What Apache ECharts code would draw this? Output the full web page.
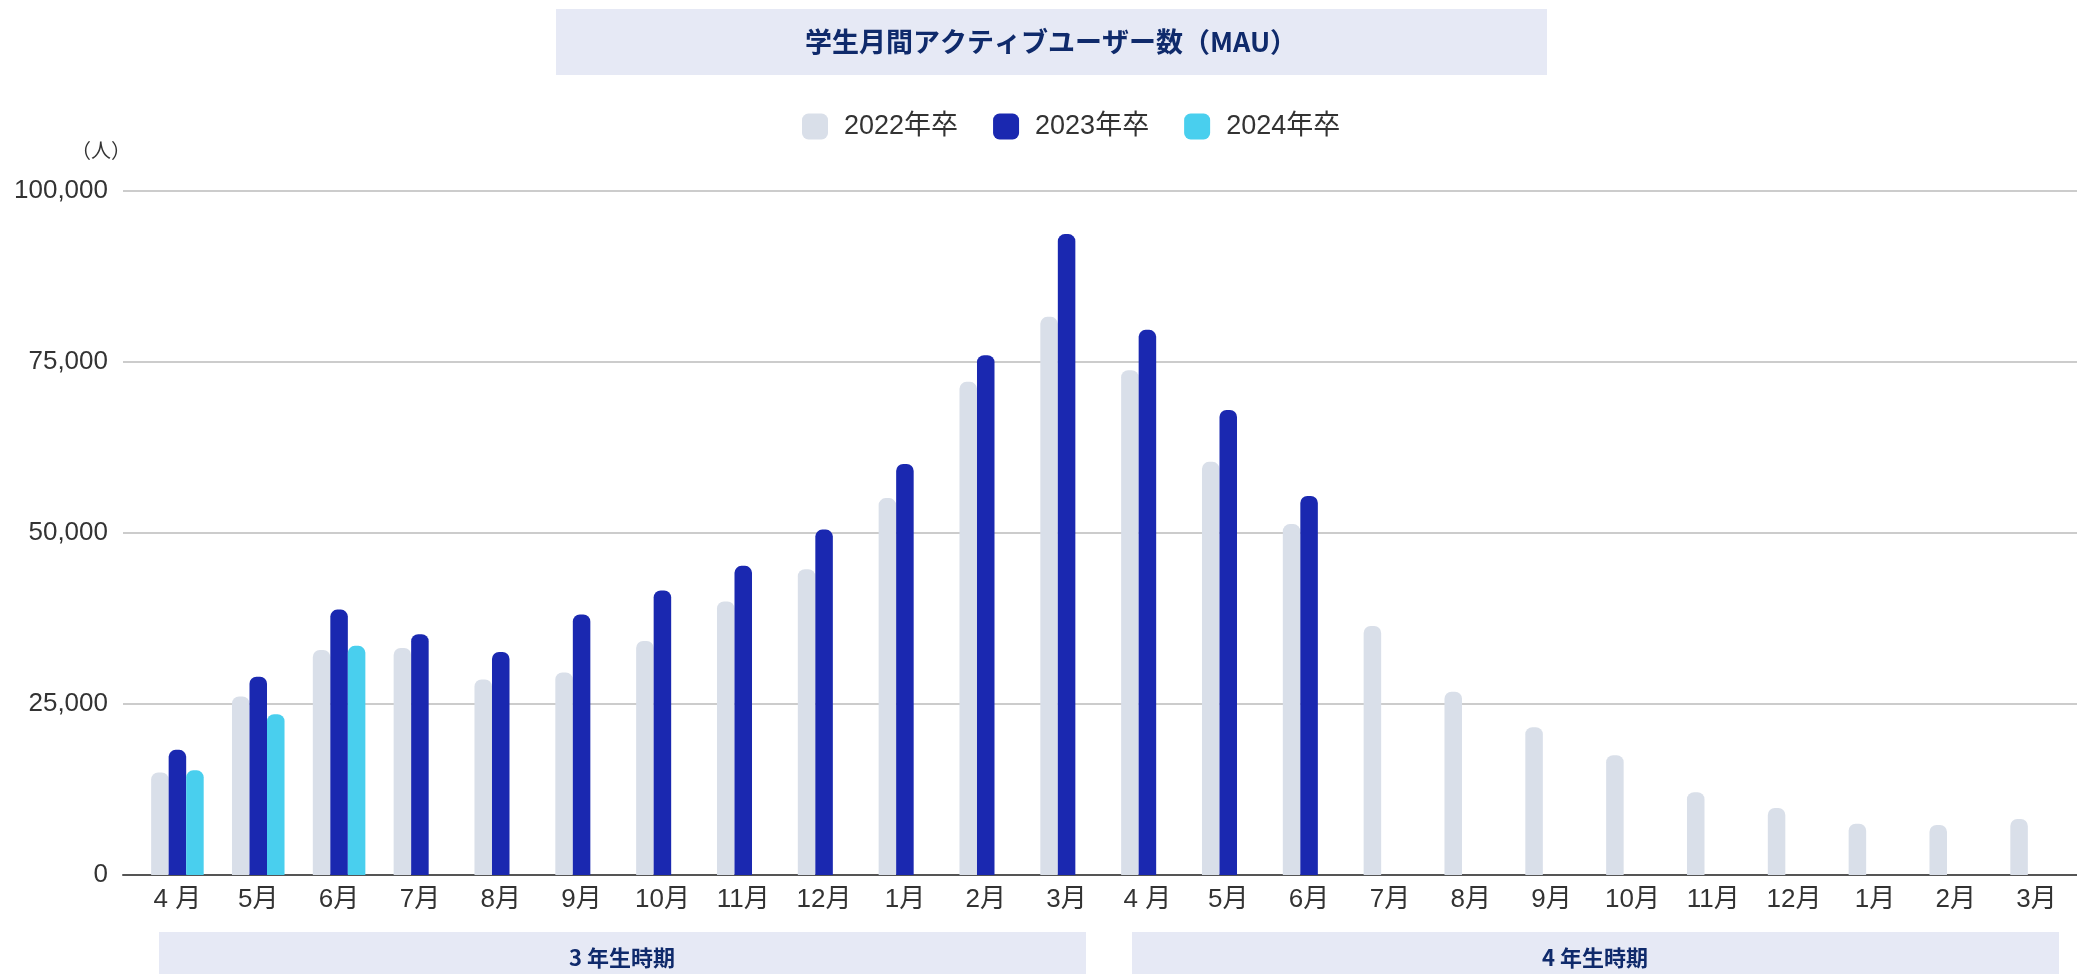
<!DOCTYPE html>
<html lang="ja">
<head>
<meta charset="utf-8">
<title>学生月間アクティブユーザー数（MAU）</title>
<script src="https://cdn.jsdelivr.net/npm/echarts@6/dist/echarts.min.js"></script>
<style>
  html, body { margin: 0; padding: 0; background: #ffffff; }
  #chart { width: 2077px; height: 974px; }
</style>
</head>
<body>
<div id="chart"></div>
<script>
"use strict";

// categories: 3年生 4月..3月 then 4年生 4月..3月
const months = [
  "4 月", "5月", "6月", "7月", "8月", "9月", "10月", "11月", "12月", "1月", "2月", "3月",
  "4 月", "5月", "6月", "7月", "8月", "9月", "10月", "11月", "12月", "1月", "2月", "3月",
];

// MAU per class
const mau_2022 = [
  15000, 26100, 32900, 33200, 28600, 29600, 34200, 40000, 44700, 55100, 72100, 81600,
  73800, 60400, 51300, 36400, 26800, 21600, 17500, 12100, 9800, 7500, 7300, 8200,
];
const mau_2023 = [
  18300, 29000, 38800, 35200, 32600, 38100, 41600, 45200, 50500, 60100, 76000, 93700,
  79700, 68000, 55400, null, null, null, null, null, null, null, null, null,
];
const mau_2024 = [
  15300, 23500, 33500, null, null, null, null, null, null, null, null, null,
  null, null, null, null, null, null, null, null, null, null, null, null,
];

const series_names = ["2022年卒", "2023年卒", "2024年卒"];
const y_ticks = [0, 25000, 50000, 75000, 100000];
const period_labels = ["3 年生時期", "4 年生時期"];

const chart_colors = ["#d9dfe9", "#1a28b0", "#49cfee"];
const navy = "#0f2a6b";
const font_main = "'Liberation Sans', Arial, 'Noto Sans CJK JP', sans-serif";
const font_jp = "'Noto Sans CJK JP', sans-serif";

function chart_create(html_div) {
  const chart = echarts.init(html_div, null, { renderer: "canvas" });

  const series_common = {
    type: "bar",
    xAxisIndex: 1,
    yAxisIndex: 1,
    barGap: "0%",
    barCategoryGap: "35%",
    silent: true,
    animation: false,
    itemStyle: { borderRadius: [7, 7, 0, 0] },
  };

  const series = [mau_2022, mau_2023, mau_2024].map((values, i) => ({
    ...series_common,
    name: series_names[i],
    data: values,
    color: chart_colors[i],
  }));

  chart.setOption({
    animation: false,
    textStyle: { fontFamily: font_main },
    legend: {
      data: series_names,
      left: 797,
      top: 108,
      icon: "roundRect",
      itemWidth: 26,
      itemHeight: 26,
      itemGap: 35,
      textStyle: {
        fontSize: 27,
        color: "#333333",
        fontFamily: font_main,
        padding: [0, 0, 0, 11],
      },
    },
    grid: [
      // background grid: gridlines + y labels + base line
      { left: 123, right: -2, top: 191, bottom: 99, containLabel: false },
      // bars: category band starts a bit to the right of the gridlines
      { left: 137, right: -2, top: 191, bottom: 99, containLabel: false },
    ],
    xAxis: [
      {
        gridIndex: 0,
        type: "value",
        min: 0,
        max: 1,
        axisLine: { show: true, onZero: true, lineStyle: { color: "#555555", width: 2 } },
        axisTick: { show: false },
        axisLabel: { show: false },
        splitLine: { show: false },
      },
      {
        gridIndex: 1,
        type: "category",
        data: months,
        axisLine: { show: false },
        axisTick: { show: false },
        axisLabel: {
          interval: 0,
          margin: 12,
          fontSize: 26,
          color: "#333333",
          fontFamily: font_main,
        },
      },
    ],
    yAxis: [
      {
        gridIndex: 0,
        type: "value",
        min: y_ticks[0],
        max: y_ticks[y_ticks.length - 1],
        interval: y_ticks[1] - y_ticks[0],
        axisLine: { show: false },
        axisTick: { show: false },
        axisLabel: {
          margin: 15,
          fontSize: 26,
          color: "#333333",
          fontFamily: font_main,
          formatter: (v) => v.toLocaleString("en-US"),
        },
        splitLine: { lineStyle: { color: "#cccccc", width: 2 } },
      },
      {
        gridIndex: 1,
        type: "value",
        min: y_ticks[0],
        max: y_ticks[y_ticks.length - 1],
        show: false,
        splitLine: { show: false },
      },
    ],
    series: series,
    graphic: [
      // title box
      {
        type: "rect",
        shape: { x: 556, y: 9, width: 991, height: 66 },
        style: { fill: "#e6e9f5" },
        silent: true,
      },
      {
        type: "text",
        x: 1051,
        y: 42,
        style: {
          text: "学生月間アクティブユーザー数（MAU）",
          fontSize: 27,
          fontWeight: "bold",
          fontFamily: font_jp,
          fill: navy,
          align: "center",
          verticalAlign: "middle",
        },
        silent: true,
      },
      // unit label
      {
        type: "text",
        x: 101,
        y: 150,
        style: {
          text: "（人）",
          fontSize: 20,
          fontFamily: font_jp,
          fill: "#333333",
          align: "center",
          verticalAlign: "middle",
        },
        silent: true,
      },
      // period boxes under the axis
      {
        type: "rect",
        shape: { x: 159, y: 932, width: 927, height: 50 },
        style: { fill: "#e6e9f5" },
        silent: true,
      },
      {
        type: "text",
        x: 622,
        y: 958,
        style: {
          text: period_labels[0],
          fontSize: 22,
          fontWeight: "bold",
          fontFamily: font_jp,
          fill: navy,
          align: "center",
          verticalAlign: "middle",
        },
        silent: true,
      },
      {
        type: "rect",
        shape: { x: 1132, y: 932, width: 927, height: 50 },
        style: { fill: "#e6e9f5" },
        silent: true,
      },
      {
        type: "text",
        x: 1595,
        y: 958,
        style: {
          text: period_labels[1],
          fontSize: 22,
          fontWeight: "bold",
          fontFamily: font_jp,
          fill: navy,
          align: "center",
          verticalAlign: "middle",
        },
        silent: true,
      },
    ],
  });
  return chart;
}

chart_create(document.getElementById("chart"));
</script>
</body>
</html>
